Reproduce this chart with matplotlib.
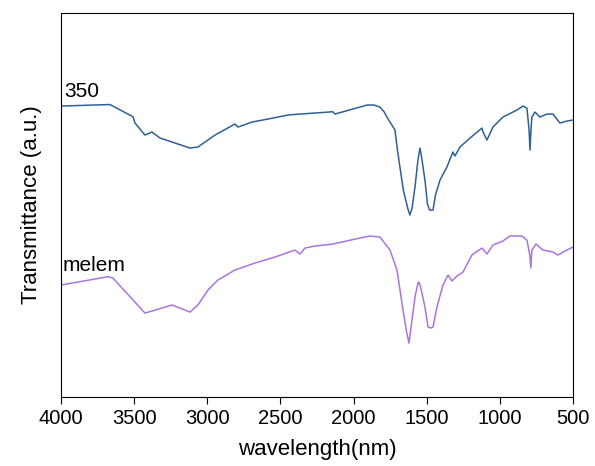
import numpy as np
import matplotlib.pyplot as plt

plt.rcParams['font.family'] = ['Liberation Sans', 'DejaVu Sans']

# spectrum of sample 350 (wavenumber, transmittance a.u.)
wn_350 = [4000, 3665, 3508, 3494, 3426, 3378, 3323, 3241, 3118, 3064, 2947, 2811, 2790,
          2694, 2585, 2448, 2366, 2264, 2141, 2127, 1956, 1908, 1860, 1820, 1790, 1772,
          1717, 1700, 1683, 1660, 1630, 1615, 1600, 1580, 1560, 1546, 1535, 1512, 1495,
          1480, 1457, 1440, 1409, 1362, 1321, 1307, 1273, 1204, 1122, 1115, 1088, 1047,
          979, 883, 842, 815, 800, 794, 787, 781, 760, 726, 678, 637, 589, 541, 500]
t_350 = [294, 295.5, 283.3, 277, 265, 268, 262, 258, 252, 253, 265, 276, 273,
         278, 281, 285, 286, 287, 288.3, 286, 293, 295, 295, 293, 288, 283,
         270, 250, 233, 210, 192, 185, 192, 213, 240, 252, 243, 220, 196,
         190, 190, 205, 220, 233, 248, 244, 253, 262, 272, 268, 260, 273,
         283, 290, 294, 292, 270, 250, 270, 283, 288, 283, 286, 286, 277, 279, 280]

# spectrum of melem
wn_melem = [4000, 3679, 3645, 3426, 3378, 3310, 3241, 3118, 3064, 2995, 2927, 2811, 2674,
            2537, 2401, 2366, 2332, 2264, 2141, 1956, 1888, 1820, 1751, 1703, 1662, 1640,
            1621, 1605, 1580, 1560, 1553, 1540, 1512, 1491, 1470, 1457, 1430, 1389, 1354,
            1327, 1293, 1252, 1191, 1122, 1088, 1047, 979, 931, 849, 815, 795, 788, 781,
            753, 706, 637, 603, 555, 500]
t_melem = [115, 123.3, 122, 87, 89, 92, 95, 88, 95, 110, 120, 130, 137,
           143, 150, 146, 152, 154, 156, 162, 164, 163, 150, 130, 90, 70,
           57, 75, 103, 117, 118, 112, 93, 73, 72, 73, 93, 115, 125,
           119, 124, 128, 145, 152, 146, 155, 159, 164, 164, 160, 145, 132, 150,
           156, 150, 148, 145, 149, 153]

fig, ax = plt.subplots(figsize=(5.95, 4.66), dpi=100)
fig.subplots_adjust(left=0.1025, right=0.963, bottom=0.148, top=0.972)

ax.plot(wn_350, t_350, color='#2E6096', lw=1.1)
ax.plot(wn_melem, t_melem, color='#A974E0', lw=1.1)

ax.text(3980, 303, '350', fontsize=15, ha='left', va='baseline')
ax.text(3990, 129, 'melem', fontsize=15, ha='left', va='baseline')

ax.set_xlim(4000, 500)
ax.set_ylim(3, 387)
ax.set_xticks(np.arange(4000, 499, -500))
ax.set_yticks([])
ax.tick_params(axis='x', direction='out', length=5, labelsize=14.5)
ax.set_xlabel('wavelength(nm)', fontsize=16, labelpad=8)
ax.set_ylabel('Transmittance (a.u.)', fontsize=16, labelpad=14)

plt.savefig('out.png', dpi=100)
